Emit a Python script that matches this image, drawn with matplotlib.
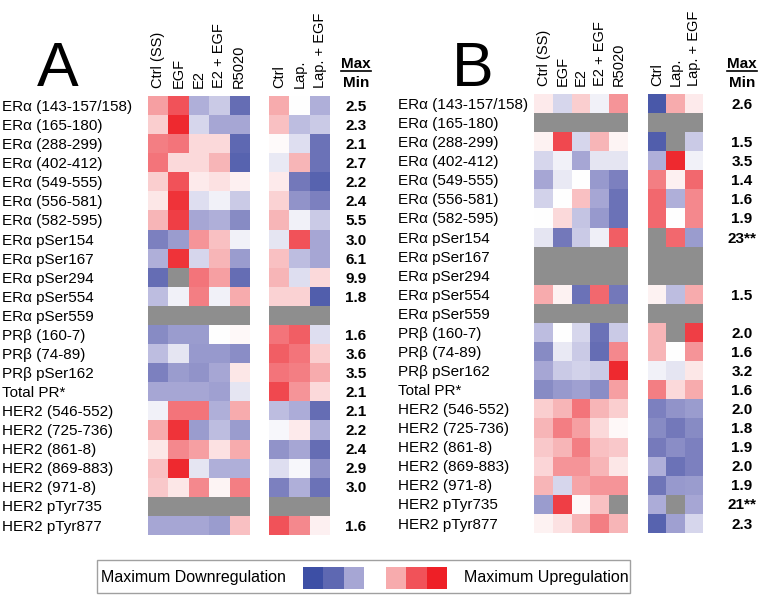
import numpy as np
import matplotlib
matplotlib.use("Agg")
import matplotlib.pyplot as plt
import matplotlib.transforms as mtransforms
from matplotlib.colors import LinearSegmentedColormap
from matplotlib.patches import Rectangle
from matplotlib.lines import Line2D

plt.rcParams["font.family"] = ["Liberation Sans", "DejaVu Sans"]

G = np.nan  # gray cell = not measured

row_labels = [
    "ERα (143-157/158)", "ERα (165-180)", "ERα (288-299)", "ERα (402-412)",
    "ERα (549-555)", "ERα (556-581)", "ERα (582-595)", "ERα pSer154",
    "ERα pSer167", "ERα pSer294", "ERα pSer554", "ERα pSer559",
    "PRβ (160-7)", "PRβ (74-89)", "PRβ pSer162", "Total PR*",
    "HER2 (546-552)", "HER2 (725-736)", "HER2 (861-8)", "HER2 (869-883)",
    "HER2 (971-8)", "HER2 pTyr735", "HER2 pTyr877",
]
treat_labels = ["Ctrl (SS)", "EGF", "E2", "E2 + EGF", "R5020"]
lap_labels = ["Ctrl", "Lap.", "Lap. + EGF"]

# relative change, -1 = max downregulation, +1 = max upregulation
a_treat = [
    [0.40, 0.75, -0.30, -0.20, -0.70],
    [0.20, 0.95, -0.15, -0.35, -0.35],
    [0.55, 0.60, 0.15, 0.15, -0.75],
    [0.60, 0.15, 0.15, 0.30, -0.80],
    [0.20, 0.75, 0.08, 0.12, 0.06],
    [0.10, 0.90, -0.12, -0.05, -0.20],
    [0.30, 0.85, -0.35, -0.30, -0.50],
    [-0.55, -0.40, 0.45, 0.25, -0.05],
    [-0.30, 0.90, -0.15, 0.30, -0.40],
    [-0.70, G, 0.60, 0.40, -0.70],
    [-0.25, -0.05, 0.55, -0.05, 0.35],
    [G, G, G, G, G],
    [-0.50, -0.40, -0.40, 0.00, 0.03],
    [-0.25, -0.10, -0.42, -0.42, -0.48],
    [-0.55, -0.40, -0.45, -0.35, 0.10],
    [-0.35, -0.35, -0.35, -0.38, -0.10],
    [-0.05, 0.60, 0.60, -0.30, 0.35],
    [0.35, 0.90, -0.40, -0.25, -0.40],
    [0.10, 0.50, 0.40, 0.12, 0.35],
    [0.25, 0.95, -0.10, -0.30, -0.30],
    [0.22, 0.10, 0.50, 0.04, 0.55],
    [G, G, G, G, G],
    [-0.35, -0.35, -0.35, -0.40, 0.25],
]
a_lap = [
    [0.35, 0.00, -0.30],
    [0.25, -0.25, -0.20],
    [0.02, -0.12, -0.65],
    [-0.08, 0.30, -0.65],
    [0.08, -0.60, -0.80],
    [0.18, -0.45, -0.55],
    [0.30, -0.05, -0.20],
    [-0.10, 0.75, -0.35],
    [0.25, -0.25, -0.35],
    [0.30, -0.12, 0.15],
    [0.18, 0.18, -0.85],
    [G, G, G],
    [0.60, 0.70, -0.12],
    [0.70, 0.60, 0.20],
    [0.60, 0.55, 0.35],
    [0.80, 0.45, 0.15],
    [-0.25, -0.32, -0.70],
    [-0.03, 0.08, -0.30],
    [-0.45, -0.35, -0.70],
    [-0.12, -0.03, -0.45],
    [-0.55, -0.30, -0.65],
    [G, G, G],
    [0.75, 0.50, 0.06],
]
a_maxmin = ["2.5", "2.3", "2.1", "2.7", "2.2", "2.4", "5.5", "3.0", "6.1", "9.9",
            "1.8", "", "1.6", "3.6", "3.5", "2.1", "2.1", "2.2", "2.4", "2.9",
            "3.0", "", "1.6"]

b_treat = [
    [0.08, -0.15, 0.20, -0.05, 0.45],
    [G, G, G, G, G],
    [0.05, 0.80, -0.15, 0.30, 0.04],
    [-0.15, -0.05, -0.35, -0.10, -0.10],
    [-0.35, -0.08, 0.00, -0.42, -0.55],
    [-0.17, 0.00, 0.25, -0.35, -0.65],
    [0.00, 0.15, -0.22, -0.42, -0.65],
    [-0.10, -0.60, -0.20, -0.06, 0.70],
    [G, G, G, G, G],
    [G, G, G, G, G],
    [0.35, 0.05, -0.65, 0.65, -0.60],
    [G, G, G, G, G],
    [-0.25, 0.00, -0.15, -0.65, -0.20],
    [-0.50, -0.08, -0.20, -0.70, 0.50],
    [-0.35, -0.20, -0.17, -0.20, 0.95],
    [-0.50, -0.42, -0.38, -0.48, 0.40],
    [0.20, 0.30, 0.60, 0.30, 0.20],
    [0.30, 0.55, 0.40, 0.15, 0.03],
    [0.22, 0.30, 0.55, 0.25, 0.22],
    [0.17, 0.45, 0.45, 0.30, 0.10],
    [0.30, -0.15, 0.38, 0.45, 0.45],
    [-0.40, 0.85, 0.03, 0.25, G],
    [0.05, 0.12, 0.30, 0.55, 0.30],
]
b_lap = [
    [-0.90, 0.35, 0.08],
    [G, G, G],
    [-0.85, G, -0.20],
    [-0.30, 0.95, -0.05],
    [0.55, 0.06, 0.65],
    [0.65, -0.30, 0.50],
    [0.65, 0.00, 0.50],
    [G, 0.65, -0.40],
    [G, G, G],
    [G, G, G],
    [0.05, -0.25, 0.35],
    [G, G, G],
    [0.30, G, 0.85],
    [0.30, 0.00, 0.45],
    [-0.05, -0.10, 0.10],
    [0.55, 0.15, 0.35],
    [-0.55, -0.45, -0.40],
    [-0.50, -0.60, -0.50],
    [-0.58, -0.48, -0.55],
    [-0.30, -0.65, -0.55],
    [-0.62, -0.42, -0.40],
    [-0.32, G, -0.35],
    [-0.80, -0.38, -0.15],
]
b_maxmin = ["2.6", "", "1.5", "3.5", "1.4", "1.6", "1.9", "23**", "", "",
            "1.5", "", "2.0", "1.6", "3.2", "1.6", "2.0", "1.8", "1.9", "2.0",
            "1.9", "21**", "2.3"]

legend_down = [[-1.0, -0.75, -0.35]]
legend_up = [[0.35, 0.75, 1.0]]

cmap = LinearSegmentedColormap.from_list("updown", [
    (0.0, "#3d4fa5"), (0.2, "#7378ba"), (0.35, "#b0b0da"), (0.5, "#ffffff"),
    (0.65, "#f8b6b8"), (0.8, "#f3747a"), (1.0, "#ee1f26")]).with_extremes(bad="#8e8e8e")

W, H = 762, 599
fig = plt.figure(figsize=(W / 100, H / 100), dpi=100)


def px_box(x0, y0, x1, y1):
    # pixel box (from top-left) -> figure fraction rect
    return [x0 / W, 1 - y1 / H, (x1 - x0) / W, (y1 - y0) / H]


def heat(rect, data, labels):
    ax = fig.add_axes(px_box(*rect))
    ax.imshow(np.ma.masked_invalid(np.array(data, dtype=float)), cmap=cmap,
              vmin=-1, vmax=1, aspect="auto", interpolation="nearest")
    ax.set_axis_off()
    for j, lab in enumerate(labels):
        ax.annotate(lab, xy=(j, 1), xycoords=("data", "axes fraction"),
                    xytext=(0, 6), textcoords="offset points", rotation=90,
                    ha="center", va="bottom", fontsize=10.5)
    return ax


def panel(letter, letter_x, label_x, val_x, block1, block2, treat, lap, maxmin):
    ax1 = heat(block1, treat, treat_labels)
    heat(block2, lap, lap_labels)
    trans = mtransforms.blended_transform_factory(fig.transFigure, ax1.transData)
    for i, lab in enumerate(row_labels):
        ax1.text(label_x / W, i, lab, transform=trans, ha="left",
                 va="center_baseline", fontsize=11)
        ax1.text(val_x / W, i, maxmin[i], transform=trans, ha="center",
                 va="center_baseline", fontsize=11, fontweight="bold")
    fig.text(letter_x / W, 1 - 86 / H, letter, fontsize=45, ha="center", va="baseline")
    fig.text(val_x / W, 1 - 68 / H, "Max", fontsize=11, fontweight="bold",
             ha="center", va="baseline")
    fig.text(val_x / W, 1 - 87 / H, "Min", fontsize=11, fontweight="bold",
             ha="center", va="baseline")
    fig.add_artist(Line2D([(val_x - 15) / W, (val_x + 15) / W], [1 - 71 / H] * 2,
                          transform=fig.transFigure, color="black", lw=1.2))


panel("A", 58, 2, 356, (148.3, 96, 249.3, 534.6), (269.3, 96, 330, 534.6),
      a_treat, a_lap, a_maxmin)
panel("B", 473, 398, 742, (534.3, 94, 627.7, 532.6), (648, 94, 703, 532.6),
      b_treat, b_lap, b_maxmin)

# legend box at the bottom
fig.add_artist(Rectangle((97 / W, 1 - 593 / H), 533 / W, 33 / H, transform=fig.transFigure,
                         fill=False, edgecolor="#a0a0a0", lw=1))
fig.text(101 / W, 1 - 582 / H, "Maximum Downregulation", fontsize=11.5, ha="left", va="baseline")
fig.text(464 / W, 1 - 582 / H, "Maximum Upregulation", fontsize=11.5, ha="left", va="baseline")
for rect, vals in [((303, 567, 364, 589), legend_down), ((386, 567, 447, 589), legend_up)]:
    lax = fig.add_axes(px_box(*rect))
    lax.imshow(vals, cmap=cmap, vmin=-1, vmax=1, aspect="auto", interpolation="nearest")
    lax.set_axis_off()

fig.savefig("out.png", dpi=100)
